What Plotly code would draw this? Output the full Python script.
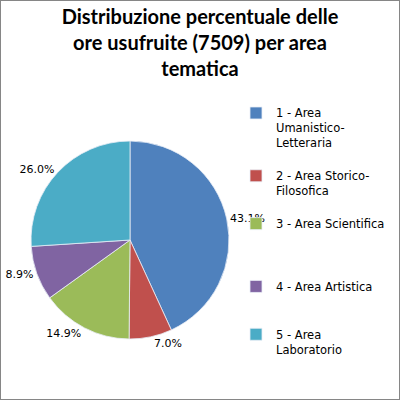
import plotly.graph_objects as go

# ore usufruite per area tematica, in percentuale (totale 7509 ore)
labels = [
    "1 - Area<br>Umanistico-<br>Letteraria<br> ",
    "2 - Area Storico-<br>Filosofica<br> ",
    "3 - Area Scientifica<br> <br> <br> ",
    "4 - Area Artistica<br> <br> ",
    "5 - Area<br>Laboratorio",
]
percentuali = [43.1, 7.0, 14.9, 8.9, 26.0]
colori = ["#4F81BD", "#C0504D", "#9BBB59", "#8064A2", "#4BACC6"]

titolo = "Distribuzione percentuale delle<br>ore usufruite (7509) per area<br>tematica"

fig = go.Figure(
    go.Pie(
        labels=labels,
        values=percentuali,
        sort=False,
        direction="clockwise",
        rotation=0,
        marker=dict(colors=colori, line=dict(color="#E8EEF6", width=0.8)),
        texttemplate="%{value:.1f}%",
        textposition="outside",
        textfont=dict(family="DejaVu Sans", size=11, color="#000000"),
        domain=dict(x=[0.0775, 0.5725], y=[0.1525, 0.6475]),
        hoverinfo="skip",
    )
)

fig.update_layout(
    width=400,
    height=400,
    margin=dict(l=0, r=0, t=0, b=0),
    paper_bgcolor="white",
    title=dict(
        text="<b>" + titolo + "</b>",
        x=0.5,
        xanchor="center",
        y=0.94,
        yanchor="top",
        font=dict(family="Lato", size=20, color="#000000"),
    ),
    legend=dict(
        x=0.59,
        xanchor="left",
        y=0.7525,
        yanchor="top",
        valign="top",
        itemwidth=30,
        bgcolor="rgba(0,0,0,0)",
        font=dict(family="DejaVu Sans", size=11.5, color="#000000"),
    ),
    showlegend=True,
    shapes=[
        dict(
            type="rect",
            xref="paper",
            yref="paper",
            x0=0,
            x1=1,
            y0=0,
            y1=1,
            line=dict(color="#868686", width=2),
        )
    ],
)

fig.write_html(
    "out.html",
    config={"displayModeBar": False},
    post_script="document.body.style.margin='0';",
)
